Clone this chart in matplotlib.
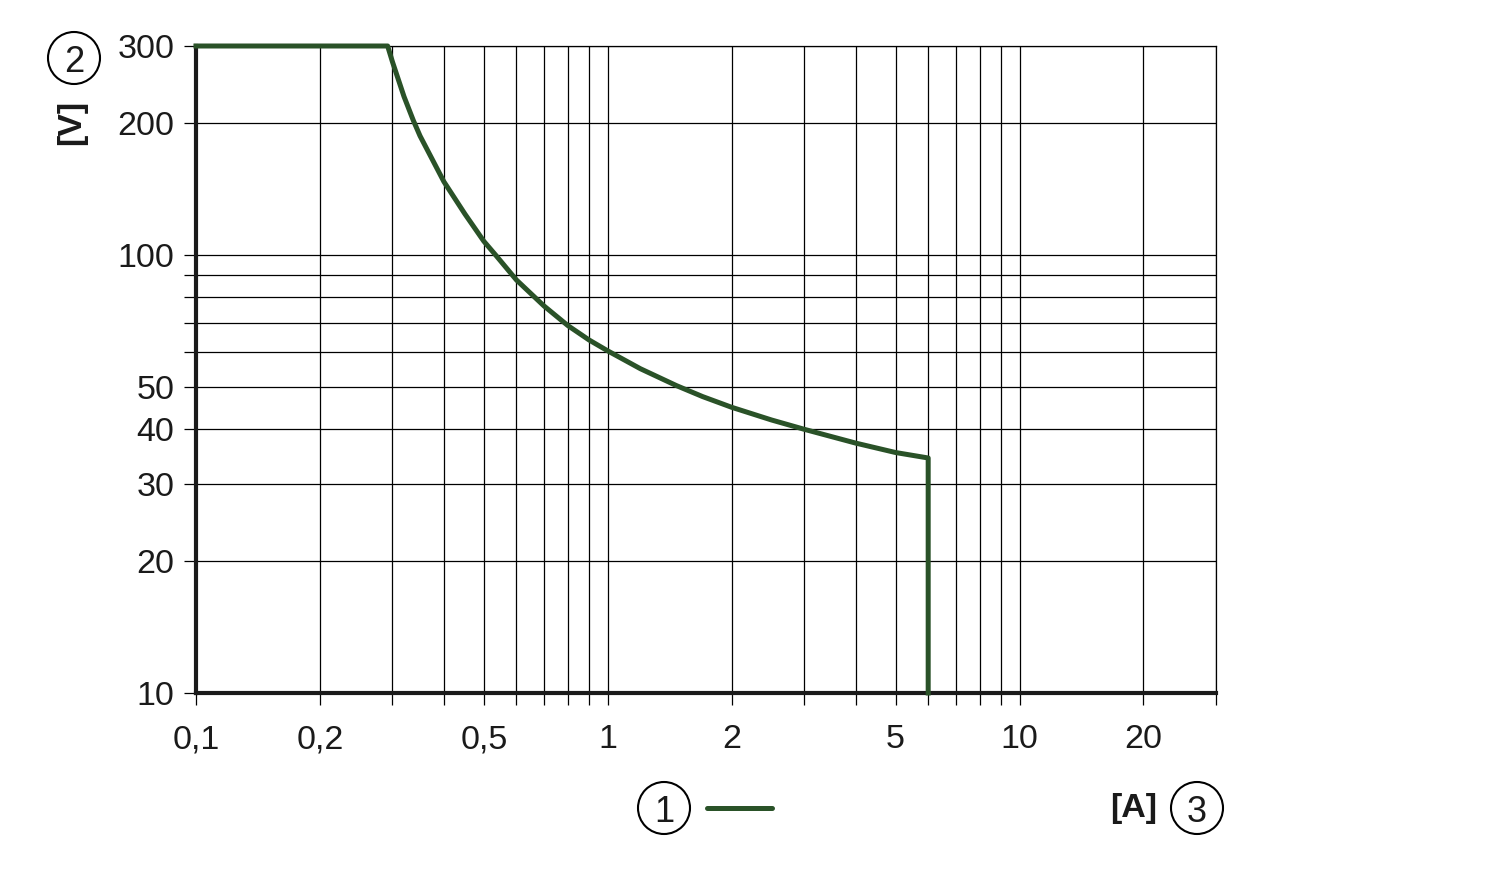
import matplotlib
matplotlib.use("Agg")
import matplotlib.pyplot as plt
from matplotlib.patches import Ellipse

plt.rcParams['font.family'] = ['Liberation Sans', 'DejaVu Sans']

# ─────────────────────────────────────────────
# DATA
# ─────────────────────────────────────────────
current_a = [0.10, 0.292, 0.30, 0.32, 0.337, 0.35, 0.40, 0.45, 0.50, 0.534,
             0.60, 0.70, 0.80, 0.90, 1.0, 1.2, 1.47, 1.7, 2.0, 2.5, 3.0,
             4.0, 5.0, 6.0, 6.0]
voltage_v = [300, 300, 276, 230, 203, 187, 147, 124, 107.5, 100,
             87.7, 76.5, 69, 64, 60.4, 55, 50.3, 47.5, 44.9, 42, 40,
             37.2, 35.4, 34.4, 10]

x_ticks = [0.1, 0.2, 0.3, 0.4, 0.5, 0.6, 0.7, 0.8, 0.9,
           1, 2, 3, 4, 5, 6, 7, 8, 9, 10, 20, 30]
x_labels = {0.1: "0,1", 0.2: "0,2", 0.5: "0,5", 1: "1", 2: "2",
            5: "5", 10: "10", 20: "20"}
y_ticks = [10, 20, 30, 40, 50, 60, 70, 80, 90, 100, 200, 300]
y_labels = {10: "10", 20: "20", 30: "30", 40: "40", 50: "50",
            100: "100", 200: "200", 300: "300"}

GREEN = "#2a5228"
INK = "#1a1a1a"
W, H = 1500, 877
FS = 24.5

# ─────────────────────────────────────────────
# PLOT
# ─────────────────────────────────────────────
fig = plt.figure(figsize=(W / 100, H / 100), dpi=100)
ax = fig.add_axes([196 / W, 1 - 693 / H, (1216 - 196) / W, (693 - 46) / H])

ax.set_xscale("log")
ax.set_yscale("log")
ax.set_xlim(0.1, 30)
ax.set_ylim(10, 300)

ax.set_xticks(x_ticks)
ax.set_xticklabels([x_labels.get(v, "") for v in x_ticks])
ax.set_yticks(y_ticks)
ax.set_yticklabels([y_labels.get(v, "") for v in y_ticks])
ax.minorticks_off()

ax.grid(True, which="major", color="black", linewidth=0.9)
ax.tick_params(axis="both", direction="out", length=8.6, width=0.9,
               labelsize=FS, colors="black", labelcolor=INK)
ax.tick_params(axis="x", pad=14)
ax.tick_params(axis="y", pad=7)

for side in ("left", "bottom"):
    ax.spines[side].set_linewidth(3.0)
    ax.spines[side].set_color(INK)
for side in ("top", "right"):
    ax.spines[side].set_linewidth(0.9)

ax.plot(current_a, voltage_v, color=GREEN, linewidth=3.6,
        solid_joinstyle="round", clip_on=False, zorder=5)


# ── circled markers and unit labels ──────────────────────────────────
def circled(num, cx, cy):
    d = 52
    fig.patches.append(Ellipse((cx / W, 1 - cy / H), d / W, d / H,
                               transform=fig.transFigure, fill=False,
                               edgecolor="black", linewidth=1.5))
    fig.text(cx / W, 1 - cy / H, num, ha="center", va="center_baseline",
             fontsize=26, color=INK)


circled("2", 74, 58)
circled("1", 664, 808)
circled("3", 1197, 808)

fig.text(72 / W, 1 - 122 / H, "[V]", rotation=90, ha="center", va="center",
         fontsize=FS, fontweight="bold", color=INK)
fig.text(1134 / W, 1 - 808 / H, "[A]", ha="center", va="center",
         fontsize=FS, fontweight="bold", color=INK)

fig.lines.append(plt.Line2D([707 / W, 772 / W], [1 - 808 / H, 1 - 808 / H],
                            transform=fig.transFigure, color=GREEN,
                            linewidth=3.6, solid_capstyle="round"))

fig.savefig("out.png", dpi=100)
